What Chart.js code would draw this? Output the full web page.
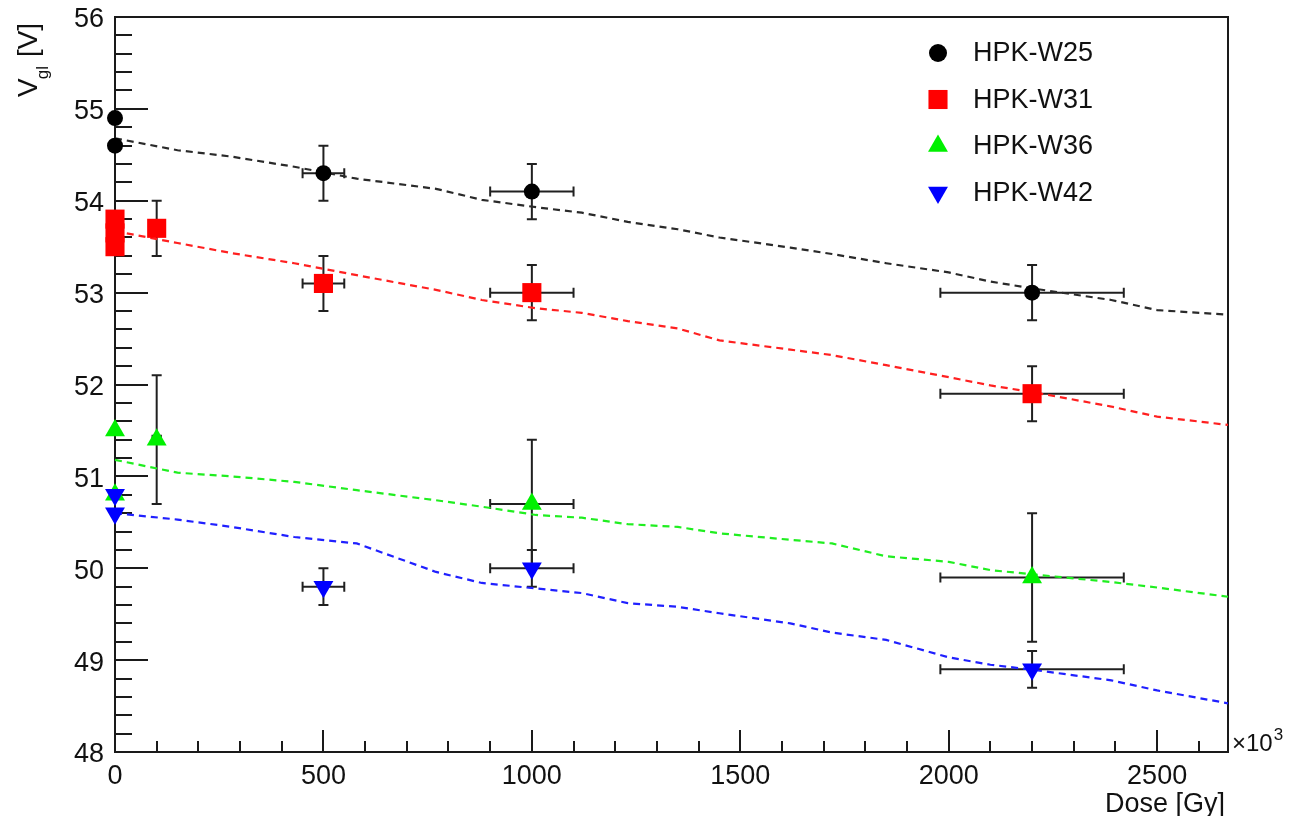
<!DOCTYPE html>
<html>
<head>
<meta charset="utf-8">
<script src="https://cdn.jsdelivr.net/npm/chart.js@4"></script>
<style>
  html, body { margin: 0; padding: 0; background: #fff; }
  #c { display: block; }
</style>
</head>
<body>
<canvas id="c" width="1293" height="816"></canvas>
<script>
// ---- measured gate voltage vs. dose, per wafer ----
const seriesNames = ['HPK-W25', 'HPK-W31', 'HPK-W36', 'HPK-W42'];

const w25Dose    = [0, 0, 500, 1000, 2200];
const w25Vgl     = [54.9, 54.6, 54.3, 54.1, 53.0];
const w25DoseErr = [0, 0, 50, 100, 220];
const w25VglErr  = [0, 0, 0.3, 0.3, 0.3];

const w31Dose    = [0, 0, 0, 100, 500, 1000, 2200];
const w31Vgl     = [53.8, 53.65, 53.5, 53.7, 53.1, 53.0, 51.9];
const w31DoseErr = [0, 0, 0, 10, 50, 100, 220];
const w31VglErr  = [0, 0, 0, 0.3, 0.3, 0.3, 0.3];

const w36Dose    = [0, 0, 100, 1000, 2200];
const w36Vgl     = [51.5, 50.8, 51.4, 50.7, 49.9];
const w36DoseErr = [0, 0, 10, 100, 220];
const w36VglErr  = [0, 0, 0.7, 0.7, 0.7];

const w42Dose    = [0, 0, 500, 1000, 2200];
const w42Vgl     = [50.8, 50.6, 49.8, 50.0, 48.9];
const w42DoseErr = [0, 0, 50, 100, 220];
const w42VglErr  = [0, 0, 0.2, 0.2, 0.2];

// ---- fitted trend curves (dashed) ----
const fitDose = [0, 150, 280, 430, 580, 770, 880, 1010, 1120, 1230, 1350, 1450, 1620, 1720, 1850, 2000, 2100, 2210, 2390, 2500, 2670];
const fitW25  = [54.68, 54.55, 54.48, 54.37, 54.24, 54.13, 54.01, 53.93, 53.87, 53.77, 53.69, 53.60, 53.49, 53.42, 53.32, 53.22, 53.12, 53.04, 52.92, 52.81, 52.76];
const fitW31  = [53.67, 53.54, 53.43, 53.32, 53.19, 53.03, 52.92, 52.83, 52.78, 52.69, 52.61, 52.48, 52.38, 52.32, 52.21, 52.08, 51.99, 51.91, 51.76, 51.65, 51.56];
const fitW36  = [51.18, 51.04, 51.00, 50.94, 50.85, 50.74, 50.67, 50.58, 50.55, 50.48, 50.45, 50.38, 50.31, 50.27, 50.13, 50.07, 49.98, 49.93, 49.85, 49.79, 49.69];
const fitW42  = [50.60, 50.53, 50.45, 50.34, 50.27, 49.96, 49.84, 49.78, 49.73, 49.62, 49.58, 49.51, 49.40, 49.30, 49.22, 49.03, 48.95, 48.89, 48.78, 48.67, 48.53];

// ---- axes ----
const xTickLabels = [0, 500, 1000, 1500, 2000, 2500];
const yTickLabels = [48, 49, 50, 51, 52, 53, 54, 55, 56];
const xRange = [0, 2670];
const yRange = [48, 56];
const xTitle = 'Dose [Gy]';
const xExponent = '3';

const FONT = '"Liberation Sans", Arial, Helvetica, sans-serif';
const AXIS_COLOR = '#1a1a1a';

const pts = (xs, ys) => xs.map((x, i) => ({ x, y: ys[i] }));

function markerSet(label, xs, ys, ex, ey, style) {
  return Object.assign({
    label,
    data: pts(xs, ys),
    errX: ex,
    errY: ey,
    showLine: false,
    clip: false,
    pointBorderWidth: 0,
    pointHoverRadius: 0
  }, style);
}

function fitSet(ys, color) {
  return {
    label: '',
    isFit: true,
    data: pts(fitDose, ys),
    showLine: true,
    borderColor: color,
    borderWidth: 2.2,
    borderDash: [7, 5],
    pointRadius: 0,
    tension: 0,
    clip: false,
    order: 10
  };
}

const datasets = [
  markerSet(seriesNames[0], w25Dose, w25Vgl, w25DoseErr, w25VglErr,
    { pointStyle: 'circle', pointRadius: 8, backgroundColor: '#000', borderColor: '#000', order: 4 }),
  markerSet(seriesNames[1], w31Dose, w31Vgl, w31DoseErr, w31VglErr,
    { pointStyle: 'rect', pointRadius: 13.5, backgroundColor: '#ff0000', borderColor: '#ff0000', order: 3 }),
  markerSet(seriesNames[2], w36Dose, w36Vgl, w36DoseErr, w36VglErr,
    { pointStyle: 'triangle', pointRadius: 11.5, backgroundColor: '#00f000', borderColor: '#00f000', order: 2 }),
  markerSet(seriesNames[3], w42Dose, w42Vgl, w42DoseErr, w42VglErr,
    { pointStyle: 'triangle', pointRotation: 180, pointRadius: 11.5, backgroundColor: '#0000ff', borderColor: '#0000ff', order: 1 }),
  fitSet(fitW25, '#2a2a2a'),
  fitSet(fitW31, '#ff2020'),
  fitSet(fitW36, '#20ee20'),
  fitSet(fitW42, '#2020ff')
];

// Frame, inward ROOT-style tick marks and error bars, drawn under the markers
const frameAndErrors = {
  id: 'frameAndErrors',
  beforeDatasetsDraw(chart) {
    const { ctx, chartArea: a, scales: { x, y } } = chart;
    ctx.save();
    ctx.strokeStyle = AXIS_COLOR;
    ctx.lineWidth = 2;
    ctx.strokeRect(a.left, a.top, a.right - a.left, a.bottom - a.top);

    ctx.beginPath();
    // y axis: 5 subdivisions per unit
    for (let i = 0; i <= (yRange[1] - yRange[0]) * 5; i++) {
      const py = Math.round(y.getPixelForValue(yRange[0] + i * 0.2));
      const len = i % 5 === 0 ? 33 : 17;
      ctx.moveTo(a.left, py);
      ctx.lineTo(a.left + len, py);
    }
    // x axis: 5 subdivisions per 500
    for (let v = 0; v <= xRange[1]; v += 100) {
      const px = Math.round(x.getPixelForValue(v));
      const len = v % 500 === 0 ? 22 : 11;
      ctx.moveTo(px, a.bottom);
      ctx.lineTo(px, a.bottom - len);
    }
    ctx.stroke();

    // error bars with end caps
    ctx.strokeStyle = '#202020';
    ctx.lineWidth = 2;
    const cap = 5;
    chart.data.datasets.forEach(ds => {
      if (!ds.errX) return;
      ds.data.forEach((p, i) => {
        const px = x.getPixelForValue(p.x);
        const py = y.getPixelForValue(p.y);
        ctx.beginPath();
        if (ds.errY[i] > 0) {
          const y1 = y.getPixelForValue(p.y + ds.errY[i]);
          const y2 = y.getPixelForValue(p.y - ds.errY[i]);
          ctx.moveTo(px, y1); ctx.lineTo(px, y2);
          ctx.moveTo(px - cap, y1); ctx.lineTo(px + cap, y1);
          ctx.moveTo(px - cap, y2); ctx.lineTo(px + cap, y2);
        }
        if (ds.errX[i] > 0) {
          const x1 = x.getPixelForValue(p.x - ds.errX[i]);
          const x2 = x.getPixelForValue(p.x + ds.errX[i]);
          ctx.moveTo(x1, py); ctx.lineTo(x2, py);
          ctx.moveTo(x1, py - cap); ctx.lineTo(x1, py + cap);
          ctx.moveTo(x2, py - cap); ctx.lineTo(x2, py + cap);
        }
        ctx.stroke();
      });
    });
    ctx.restore();
  },
  afterDraw(chart) {
    const { ctx, chartArea: a } = chart;
    ctx.save();
    ctx.fillStyle = '#111';
    ctx.textBaseline = 'alphabetic';

    // x axis title, right aligned under the axis
    ctx.font = '27px ' + FONT;
    ctx.textAlign = 'right';
    ctx.fillText(xTitle, a.right - 3, 812);

    // x10^3 multiplier at the axis end
    ctx.textAlign = 'left';
    ctx.font = '24px ' + FONT;
    ctx.fillText('\u00d710', a.right + 4, a.bottom - 1);
    const wMul = ctx.measureText('\u00d710').width;
    ctx.font = '17px ' + FONT;
    ctx.fillText(xExponent, a.right + 5 + wMul, a.bottom - 12);

    // y axis title: V_gl [V], rotated
    ctx.translate(37, 97);
    ctx.rotate(-Math.PI / 2);
    ctx.font = '28px ' + FONT;
    ctx.fillText('V', 0, 0);
    const w1 = ctx.measureText('V').width;
    ctx.font = '17px ' + FONT;
    ctx.fillText('gl', w1 - 1, 11);
    const w2 = ctx.measureText('gl').width;
    ctx.font = '28px ' + FONT;
    ctx.fillText('[V]', w1 + w2 + 8, 0);
    ctx.restore();

    // legend
    ctx.save();
    ctx.font = '27px ' + FONT;
    ctx.textAlign = 'left';
    ctx.textBaseline = 'middle';
    const rows = chart.data.datasets.filter(d => !d.isFit);
    rows.forEach((ds, i) => {
      const cy = 53 + i * 46.5;
      ctx.fillStyle = ds.backgroundColor;
      ctx.strokeStyle = ds.borderColor;
      Chart.helpers.drawPoint(ctx, {
        pointStyle: ds.pointStyle,
        radius: ds.pointStyle === 'circle' ? ds.pointRadius + 1 : ds.pointRadius,
        rotation: ds.pointRotation || 0,
        borderWidth: 0
      }, 938, cy);
      ctx.fillStyle = '#111';
      ctx.fillText(ds.label, 973, cy + 1);
    });
    ctx.restore();
  }
};

new Chart(document.getElementById('c'), {
  type: 'scatter',
  data: { datasets },
  plugins: [frameAndErrors],
  options: {
    responsive: false,
    animation: false,
    devicePixelRatio: 1,
    layout: { padding: { left: 0, top: 17, right: 65, bottom: 0 } },
    plugins: { legend: { display: false }, tooltip: { enabled: false } },
    events: [],
    scales: {
      x: {
        type: 'linear',
        min: xRange[0],
        max: xRange[1],
        grid: { display: false, drawTicks: false },
        border: { display: false },
        afterFit: s => { s.height = 64; s.paddingLeft = 0; s.paddingRight = 0; },
        afterBuildTicks: s => { s.ticks = xTickLabels.map(v => ({ value: v })); },
        ticks: {
          autoSkip: false, maxRotation: 0, padding: 8,
          callback: v => String(v),
          color: '#111', font: { family: FONT, size: 27 }
        }
      },
      y: {
        type: 'linear',
        min: yRange[0],
        max: yRange[1],
        grid: { display: false, drawTicks: false },
        border: { display: false },
        afterFit: s => { s.width = 115; s.paddingTop = 0; s.paddingBottom = 0; },
        afterBuildTicks: s => { s.ticks = yTickLabels.map(v => ({ value: v })); },
        ticks: {
          autoSkip: false, padding: 11, labelOffset: 3,
          callback: v => String(v),
          color: '#111', font: { family: FONT, size: 27 }
        }
      }
    }
  }
});
</script>
</body>
</html>
